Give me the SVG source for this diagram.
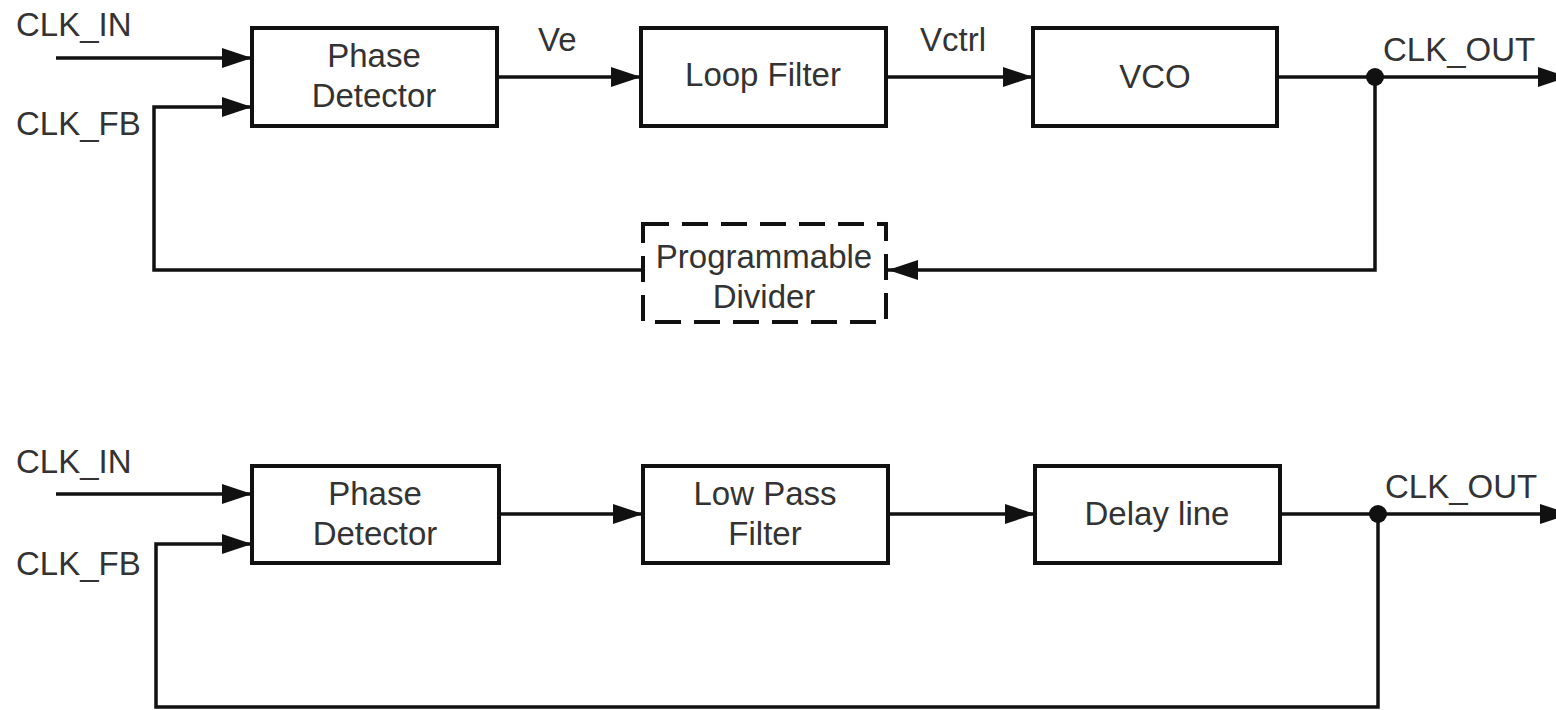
<svg xmlns="http://www.w3.org/2000/svg" width="1556" height="710" viewBox="0 0 1556 710">
<style>
.box{fill:#fff;stroke:#111;stroke-width:4}
.dash{fill:#fff;stroke:#111;stroke-width:4;stroke-dasharray:26 13}
.w{fill:none;stroke:#111;stroke-width:3.5}
text{font-family:"Liberation Sans",Arial,sans-serif;font-size:33px;fill:#333}
.c{text-anchor:middle}
</style>
<defs>
<marker id="ah" markerUnits="userSpaceOnUse" markerWidth="30" markerHeight="22" refX="30" refY="11" orient="auto">
<path d="M0,1 L30,11 L0,21 z" fill="#111"/>
</marker>
</defs>
<rect width="1556" height="710" fill="#fff"/>
<g id="connectors">
<path class="w" d="M56,58 H252" marker-end="url(#ah)"/>
<path class="w" d="M641,270 H154 V107 H252" marker-end="url(#ah)"/>
<path class="w" d="M497,77 H641" marker-end="url(#ah)"/>
<path class="w" d="M886,77 H1033" marker-end="url(#ah)"/>
<path class="w" d="M1277,77 H1568" marker-end="url(#ah)"/>
<path class="w" d="M1375,77 V270 H888" marker-end="url(#ah)"/>
<circle cx="1375" cy="77" r="9" fill="#111"/>
<path class="w" d="M56,494 H252" marker-end="url(#ah)"/>
<path class="w" d="M1378,514 V707 H156 V544 H252" marker-end="url(#ah)"/>
<path class="w" d="M499,514 H643" marker-end="url(#ah)"/>
<path class="w" d="M888,514 H1035" marker-end="url(#ah)"/>
<path class="w" d="M1280,514 H1570" marker-end="url(#ah)"/>
<circle cx="1378" cy="514" r="9" fill="#111"/>
</g>
<g id="labels">
<text x="16" y="36">CLK_IN</text>
<text x="16" y="135">CLK_FB</text>
<text x="538" y="51">Ve</text>
<text x="920" y="51">Vctrl</text>
<text x="1383" y="61">CLK_OUT</text>
<text x="16" y="473">CLK_IN</text>
<text x="16" y="575">CLK_FB</text>
<text x="1385" y="498">CLK_OUT</text>
</g>
<g id="pd1">
<rect class="box" x="252" y="28" width="245" height="98"/>
<text class="c" x="374" y="67">Phase</text>
<text class="c" x="374" y="107">Detector</text>
</g>
<g id="lf">
<rect class="box" x="641" y="28" width="245" height="98"/>
<text class="c" x="763" y="86">Loop Filter</text>
</g>
<g id="vco">
<rect class="box" x="1033" y="28" width="244" height="98"/>
<text class="c" x="1155" y="88">VCO</text>
</g>
<g id="div">
<rect class="dash" x="643" y="224" width="243" height="98"/>
<text class="c" x="764" y="268">Programmable</text>
<text class="c" x="764" y="308">Divider</text>
</g>
<g id="pd2">
<rect class="box" x="252" y="466" width="247" height="97"/>
<text class="c" x="375" y="505">Phase</text>
<text class="c" x="375" y="545">Detector</text>
</g>
<g id="lpf">
<rect class="box" x="643" y="466" width="245" height="97"/>
<text class="c" x="765" y="505">Low Pass</text>
<text class="c" x="765" y="545">Filter</text>
</g>
<g id="dl">
<rect class="box" x="1035" y="466" width="245" height="97"/>
<text class="c" x="1157" y="525">Delay line</text>
</g>
</svg>
